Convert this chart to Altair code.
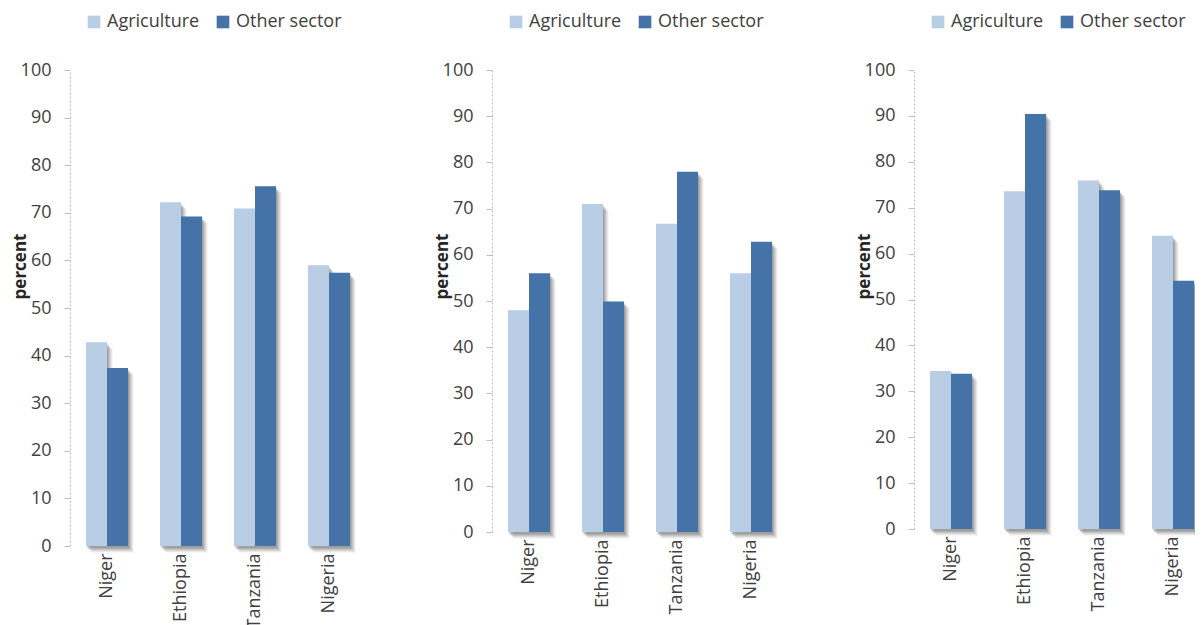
import altair as alt
import pandas as pd

countries = ["Niger", "Ethiopia", "Tanzania", "Nigeria"]
sectors = ["Agriculture", "Other sector"]

panel1_agri = [42.8, 72.2, 70.9, 59.0]
panel1_other = [37.4, 69.2, 75.6, 57.4]
panel2_agri = [48.0, 71.0, 66.7, 56.0]
panel2_other = [56.0, 49.9, 78.0, 62.8]
panel3_agri = [34.4, 73.6, 75.9, 63.9]
panel3_other = [33.8, 90.4, 73.8, 54.1]

LIGHT = "#B9CDE5"
DARK = "#4572A7"
FONT = "Open Sans"
TXT = "#404040"
BAR_W = 21
PANEL_W = 296
PANEL_STEP = 422
VIEW_H = 476


def make_df(agri, other):
    rows = []
    for c, a, o in zip(countries, agri, other):
        rows.append({"country": c, "sector": sectors[0], "value": a})
        rows.append({"country": c, "sector": sectors[1], "value": o})
    return pd.DataFrame(rows)


def panel(idx, agri, other, plot_h):
    df = make_df(agri, other)
    x0 = idx * PANEL_STEP
    x = alt.X(
        "country:N",
        sort=countries,
        title=None,
        scale=alt.Scale(range=[x0, x0 + PANEL_W], paddingInner=0, paddingOuter=0),
        axis=alt.Axis(
            orient="bottom",
            offset=plot_h - VIEW_H,
            labelAngle=-90,
            labelFont=FONT,
            labelFontSize=18,
            labelColor=TXT,
            domain=False,
            ticks=False,
            labelPadding=7,
        ),
    )
    y = alt.Y(
        "value:Q",
        scale=alt.Scale(domain=[0, 100], nice=False, range=[plot_h, 0]),
        axis=alt.Axis(
            orient="left",
            offset=-x0,
            values=list(range(0, 101, 10)),
            title="percent",
            titleFont=FONT,
            titleFontSize=17,
            titleFontWeight="bold",
            titleColor="#262626",
            titleAngle=270,
            titleAlign="center",
            titleBaseline="middle",
            titleX=-50,
            titleY=196,
            labelFont=FONT,
            labelFontSize=18,
            labelColor=TXT,
            labelPadding=13,
            tickSize=6,
            tickColor="#BFBFBF",
            domainColor="#BFBFBF",
            domainDash=[2, 2],
            grid=False,
        ),
    )
    color = alt.Color(
        "sector:N",
        sort=sectors,
        scale=alt.Scale(domain=sectors, range=[LIGHT, DARK]),
        legend=alt.Legend(
            title=None,
            orient="none",
            direction="horizontal",
            legendX=x0 + 15,
            legendY=-57,
            symbolType="square",
            symbolSize=160,
            symbolStrokeWidth=0,
            labelFont=FONT,
            labelFontSize=18,
            labelColor=TXT,
            labelOffset=4,
            columnPadding=14,
            padding=0,
        ),
    )
    base = alt.Chart(df)
    layers = []
    offsets = {sectors[0]: -BAR_W / 2, sectors[1]: BAR_W / 2}
    for s in sectors:
        sub = base.transform_filter(alt.datum.sector == s)
        for off, op in [(1, 0.26), (2, 0.22), (3, 0.18), (4, 0.14), (5, 0.10), (6, 0.06)]:
            layers.append(
                sub.mark_bar(
                    width=BAR_W,
                    xOffset=offsets[s] + off,
                    yOffset=off + 1,
                    color="#6F6F6F",
                    opacity=op,
                ).encode(x=x, y=y)
            )
    for s in sectors:
        sub = base.transform_filter(alt.datum.sector == s)
        layers.append(
            sub.mark_bar(width=BAR_W, xOffset=offsets[s]).encode(x=x, y=y, color=color)
        )
    return alt.layer(*layers)


p1 = panel(0, panel1_agri, panel1_other, 476)
p2 = panel(1, panel2_agri, panel2_other, 462)
p3 = panel(2, panel3_agri, panel3_other, 459)

chart = (
    alt.layer(p1, p2, p3)
    .resolve_scale(x="independent", y="independent", color="independent")
    .configure_view(stroke=None)
    .properties(
        width=1125,
        height=VIEW_H,
        autosize=alt.AutoSizeParams(type="none"),
        padding={"left": 62, "top": 62, "right": 0, "bottom": 79},
    )
)

chart.save("out.html", embed_options={"renderer": "svg", "actions": False})
